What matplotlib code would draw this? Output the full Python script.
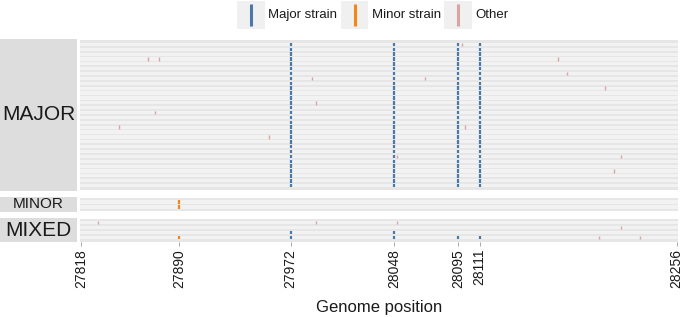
import matplotlib
matplotlib.use("Agg")
import matplotlib.pyplot as plt

plt.rcParams['font.family'] = ['Liberation Sans', 'DejaVu Sans']

# ---------------- data ----------------
panels = ["MAJOR", "MINOR", "MIXED"]
panel_rows = [30, 2, 4]
tick_positions = [27818, 27890, 27972, 28048, 28095, 28111, 28256]
x_min, x_max = 27818, 28256

major_strain_pos = [27972, 28048, 28095, 28111]
minor_strain_pos = [27890]

# MAJOR panel: every row carries the major strain alleles
major_other_rows = [1, 4, 4, 4, 7, 8, 8, 10, 13, 15, 18, 18, 20, 24, 24, 27]
major_other_pos = [28098, 27867, 27875, 28169, 28175, 27988, 28071, 28203,
                   27991, 27872, 28100, 27846, 27956, 28050, 28215, 28210]

# MINOR panel
minor_minor_rows = [1, 2]
minor_minor_pos = [27890, 27890]

# MIXED panel
mixed_major_rows = [3, 3, 4, 4, 4, 4]
mixed_major_pos = [27972, 28048, 27972, 28048, 28095, 28111]
mixed_minor_rows = [4]
mixed_minor_pos = [27890]
mixed_other_rows = [1, 1, 1, 2, 4, 4]
mixed_other_pos = [27830, 27991, 28050, 28215, 28199, 28229]

legend_labels = ["Major strain", "Minor strain", "Other"]

# ---------------- style ----------------
c_major = "#4A78A8"
c_minor = "#F58518"
c_other = "#DCA3A3"
strip_col = "#DDDDDD"
band_col = "#F2F2F2"
panel_bg = "#E6E6E6"

W, H = 685, 317
fig = plt.figure(figsize=(W / 100, H / 100), dpi=100)


def px_axes(x0, y0, x1, y1):
    return fig.add_axes([x0 / W, 1 - y1 / H, (x1 - x0) / W, (y1 - y0) / H])


# pixel boxes (left, top, right, bottom)
panel_boxes = [(80, 40, 678, 190), (80, 198, 678, 211), (80, 219, 678, 242)]
strip_boxes = [(0, 39, 77, 191), (0, 197, 77, 212), (0, 218, 77, 242)]
ylims = [(30.9, 0.1), (2.8, 0.2), (4.95, 0.27)]
strip_sizes = [15, 11, 15]

mark_sets = [
    [([r for r in range(1, 31) for _ in major_strain_pos],
      [p for _ in range(1, 31) for p in major_strain_pos], c_major, 1.6),
     (major_other_rows, major_other_pos, c_other, 1.0)],
    [(minor_minor_rows, minor_minor_pos, c_minor, 1.6)],
    [(mixed_other_rows, mixed_other_pos, c_other, 1.0),
     (mixed_major_rows, mixed_major_pos, c_major, 1.6),
     (mixed_minor_rows, mixed_minor_pos, c_minor, 1.6)],
]

for i, name in enumerate(panels):
    ax = px_axes(*panel_boxes[i])
    ax.set_facecolor(panel_bg)
    n = panel_rows[i]
    rows = list(range(1, n + 1))
    ax.barh(rows, [x_max - x_min + 10] * n, left=x_min - 5, height=0.66,
            color=band_col, edgecolor="none", zorder=1)
    for rr, pp, col, lw in mark_sets[i]:
        ax.vlines(pp, [r - 0.36 for r in rr], [r + 0.36 for r in rr],
                  colors=col, linewidth=lw, zorder=3)
    ax.set_xlim(x_min - 1, x_max + 1)
    ax.set_ylim(*ylims[i])
    ax.set_yticks([])
    for s in ax.spines.values():
        s.set_visible(False)
    if i < 2:
        ax.set_xticks([])
    else:
        ax.set_xticks(tick_positions)
        ax.set_xticklabels([str(t) for t in tick_positions], rotation=90,
                           fontsize=10, color="#1A1A1A")
        ax.tick_params(axis="x", length=3, width=0.6, color="#999999", pad=2)
        ax.set_xlabel("Genome position", fontsize=12, color="#1A1A1A", labelpad=9)

    sax = px_axes(*strip_boxes[i])
    sax.set_facecolor(strip_col)
    sax.set_xticks([])
    sax.set_yticks([])
    for s in sax.spines.values():
        s.set_visible(False)
    sax.text(0.5, 0.5, name, ha="center", va="center", fontsize=strip_sizes[i],
             color="#1A1A1A", transform=sax.transAxes)

# ---------------- legend (ggplot-style vertical key glyphs) ----------------
key_boxes = [(237, 265), (341, 368), (444, 472)]
text_x = [268, 372, 475]
for (k0, k1), tx, col, lab in zip(key_boxes, text_x, (c_major, c_minor, c_other), legend_labels):
    kax = px_axes(k0, 1, k1, 29)
    kax.set_facecolor("#F0F0F0")
    kax.set_xlim(0, 1)
    kax.set_ylim(0, 1)
    kax.set_xticks([])
    kax.set_yticks([])
    for s in kax.spines.values():
        s.set_visible(False)
    kax.vlines([0.5], [0.1], [0.9], colors=col, linewidth=2.2)
    fig.text(tx / W, 1 - 15 / H, lab, ha="left", va="center", fontsize=9.5, color="#1A1A1A")

fig.savefig("out.png", dpi=100, facecolor="white")
